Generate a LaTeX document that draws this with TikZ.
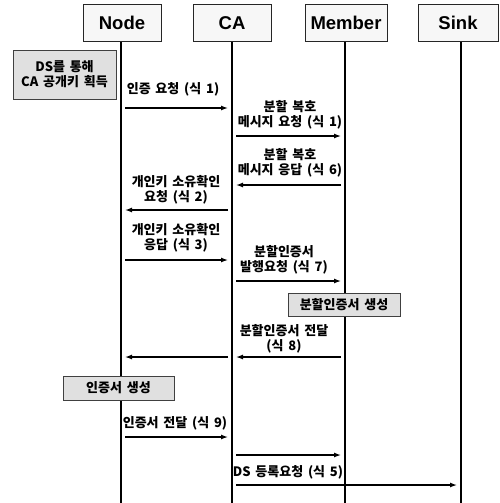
\documentclass[tikz,border=0pt]{standalone}
\usepackage{fontspec}
\setmainfont{Liberation Sans}
\newfontfamily\kr{Noto Sans CJK KR}[WordSpace=1.6]
\usetikzlibrary{arrows.meta}
\begin{document}
\begin{tikzpicture}[x=1pt,y=-1pt,
  head/.style={draw=black!85, line width=0.8pt, fill=black!3, minimum width=78pt, minimum height=37pt, inner sep=0pt,
    font=\fontsize{18.5}{20}\selectfont\bfseries},
  life/.style={line width=2pt},
  msg/.style={line width=1.3pt, -{Latex[length=7pt,width=5pt]}, shorten >=4pt, shorten <=4pt},
  lbl/.style={font=\kr\bfseries\fontsize{13}{15}\selectfont, align=center, inner sep=0pt},
  note/.style={draw=black!75, fill=black!12, line width=0.8pt, inner sep=0pt, align=center,
    font=\kr\bfseries\fontsize{13}{15}\selectfont}]
\useasboundingbox (0,0) rectangle (499,503);
\fill[white] (0,0) rectangle (499,503);

% headers
\node[head] (hN) at (122,23) {Node};
\node[head] (hC) at (232,23) {CA};
\node[head, minimum width=82pt] (hM) at (346,23) {Member};
\node[head, minimum width=80pt] (hS) at (458,23) {Sink};

% lifeline bottoms
\coordinate (bN) at (121,503);
\coordinate (bC) at (232,503);
\coordinate (bM) at (345,503);
\coordinate (bS) at (461,503);
\draw[life] (hN.south -| bN) -- (bN);
\draw[life] (hC.south -| bC) -- (bC);
\draw[life] (hM.south -| bM) -- (bM);
\draw[life] (hS.south -| bS) -- (bS);

% notes
\node[note, minimum width=103pt, minimum height=49pt] (nDS) at (64.5,74.5) {DS를 통해\\CA 공개키 획득};
\node[note, minimum width=112pt, minimum height=23pt] (nSplit) at (344,304.5) {분할인증서 생성};
\node[note, minimum width=111pt, minimum height=24pt] (nCert) at (118.5,388) {인증서 생성};

% message endpoints
\coordinate (m1a) at (121,108); \coordinate (m1b) at (232,108);
\coordinate (m2a) at (232,136); \coordinate (m2b) at (345,136);
\coordinate (m3a) at (345,185); \coordinate (m3b) at (232,185);
\coordinate (m4a) at (232,210); \coordinate (m4b) at (121,210);
\coordinate (m5a) at (121,260); \coordinate (m5b) at (232,260);
\coordinate (m6a) at (232,281); \coordinate (m6b) at (345,281);
\coordinate (m7a) at (345,357); \coordinate (m7b) at (232,357);
\coordinate (m8a) at (232,357); \coordinate (m8b) at (121,357);
\coordinate (m9a) at (121,437); \coordinate (m9b) at (232,437);
\coordinate (m10a) at (232,455); \coordinate (m10b) at (345,455);
\coordinate (m11a) at (232,485); \coordinate (m11b) at (461,485);

\draw[msg] (m1a) -- (m1b);
\draw[msg] (m2a) -- (m2b);
\draw[msg] (m3a) -- (m3b);
\draw[msg] (m4a) -- (m4b);
\draw[msg] (m5a) -- (m5b);
\draw[msg] (m6a) -- (m6b);
\draw[msg] (m7a) -- (m7b);
\draw[msg] (m8a) -- (m8b);
\draw[msg] (m9a) -- (m9b);
\draw[msg] (m10a) -- (m10b);
\draw[msg] (m11a) -- (m11b);

% labels
\node[lbl] (l1) at (173,89) {인증 요청 (식 1)};
\node[lbl] (l2) at (290,115) {분할 복호\\메시지 요청 (식 1)};
\node[lbl] (l3) at (290,163) {분할 복호\\메시지 응답 (식 6)};
\node[lbl] (l4) at (176,190) {개인키 소유확인\\요청 (식 2)};
\node[lbl] (l5) at (176,237.5) {개인키 소유확인\\응답 (식 3)};
\node[lbl] (l6) at (284,259.5) {분할인증서\\발행요청 (식 7)};
\node[lbl] (l7) at (284,339) {분할인증서 전달\\(식 8)};
\node[lbl] (l9) at (175,423) {인증서 전달 (식 9)};
\node[lbl] (l11) at (288,472) {DS 등록요청 (식 5)};
\end{tikzpicture}
\end{document}
